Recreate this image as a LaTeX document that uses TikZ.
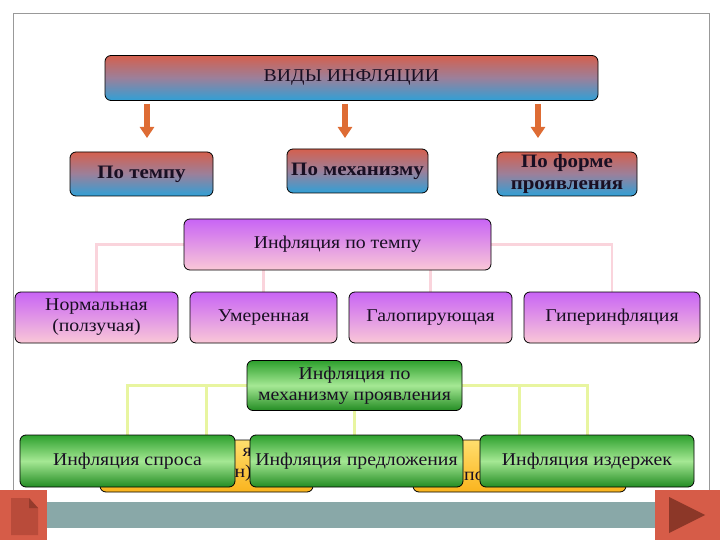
\documentclass[tikz,border=0pt]{standalone}
\usepackage{fontspec}
\setmainfont{Liberation Serif}[FakeStretch=1.1]
\usetikzlibrary{arrows.meta}
\definecolor{redtop}{RGB}{212,96,78}
\definecolor{midmix}{RGB}{155,128,155}
\definecolor{bluebot}{RGB}{48,160,214}
\definecolor{purtop}{RGB}{200,100,245}
\definecolor{pinkbot}{RGB}{250,200,215}
\definecolor{grdark}{RGB}{45,160,45}
\definecolor{grdark2}{RGB}{35,140,35}
\definecolor{grlight}{RGB}{165,232,148}
\definecolor{yeltop}{RGB}{255,222,110}
\definecolor{yelbot}{RGB}{250,180,30}
\definecolor{pinkline}{RGB}{250,212,220}
\definecolor{yelline}{RGB}{232,245,160}
\definecolor{arrowcol}{RGB}{222,108,52}
\definecolor{barcol}{RGB}{137,168,168}
\definecolor{btnred}{RGB}{214,92,72}
\definecolor{btndark}{RGB}{140,55,40}
\definecolor{docdark}{RGB}{185,75,58}
\definecolor{txt}{RGB}{25,15,35}
\tikzset{
  box/.style={draw=black, line width=0.8pt, rounded corners=6pt, inner sep=0pt,
    align=center, text=txt, font=\fontsize{18}{21}\selectfont},
  bluebox/.style={box, top color=redtop, bottom color=bluebot, middle color=midmix,
    font=\fontsize{19}{22}\selectfont\bfseries},
  purbox/.style={box, top color=purtop, bottom color=pinkbot},
  grbox/.style={box, top color=grdark, bottom color=grdark2, middle color=grlight},
  yelbox/.style={box, top color=yeltop, bottom color=yelbot},
  pinkconn/.style={draw=pinkline, line width=2.5pt},
  yelconn/.style={draw=yelline, line width=3pt},
  downarrow/.style={draw=arrowcol, line width=6.5pt, -{Triangle[width=14pt,length=11pt]}},
  hidtext/.style={align=right, text=txt, font=\fontsize{18}{21}\selectfont, inner sep=0pt}
}
\begin{document}
\begin{tikzpicture}[x=1pt,y=-1pt]
\useasboundingbox (0,0) rectangle (720,540);
% slide frame
\draw[draw=gray!80, line width=0.8pt] (13,490) -- (13,13) -- (709,13) -- (709,490);

% top level
\node[box, top color=redtop, bottom color=bluebot, middle color=midmix,
      minimum width=493pt, minimum height=45pt] (vidy) at (351.5,78) {ВИДЫ ИНФЛЯЦИИ};
\node[bluebox, minimum width=143pt, minimum height=44pt] (potempu) at (141.5,174) {По темпу};
\node[bluebox, minimum width=141pt, minimum height=44pt] (pomech) at (357.5,171) {По механизму};
\node[bluebox, minimum width=140pt, minimum height=44pt] (poforme) at (567,174) {По форме\\проявления};

\coordinate (a1s) at (147,104); \coordinate (a1e) at (147,138);
\coordinate (a2s) at (345,104); \coordinate (a2e) at (345,138);
\coordinate (a3s) at (538,104); \coordinate (a3e) at (538,138);
\draw[downarrow] (a1s) -- (a1e);
\draw[downarrow] (a2s) -- (a2e);
\draw[downarrow] (a3s) -- (a3e);

% tempo branch
\coordinate (tempc) at (337.5,244.5);
\path (tempc) ++(-153.5,0) coordinate (tempw) ++(307,0) coordinate (tempe);
\coordinate (norm n) at (96.5,292);
\coordinate (umer n) at (263.5,292);
\coordinate (galop n) at (430.5,292);
\coordinate (giper n) at (612,292);
\draw[pinkconn] (tempw) -| (norm n);
\draw[pinkconn] (tempe) -| (giper n);
\draw[pinkconn] (umer n) -- (263.5,262);
\draw[pinkconn] (galop n) -- (430.5,262);
\node[purbox, minimum width=307pt, minimum height=51pt] (temp) at (tempc) {Инфляция по темпу};
\node[purbox, minimum width=163pt, minimum height=51pt] (norm) at (96.5,317.5) {Нормальная\\(ползучая)};
\node[purbox, minimum width=147pt, minimum height=51pt] (umer) at (263.5,317.5) {Умеренная};
\node[purbox, minimum width=163pt, minimum height=51pt] (galop) at (430.5,317.5) {Галопирующая};
\node[purbox, minimum width=176pt, minimum height=51pt] (giper) at (612,317.5) {Гиперинфляция};

% mechanism branch
\coordinate (mechc) at (354.5,385.5);
\path (mechc) ++(-107.5,0) coordinate (mechw) ++(215,0) coordinate (meche);
\coordinate (otkr n) at (206.5,440);
\coordinate (skr n) at (519.5,440);
\coordinate (spros n) at (127.5,436);
\coordinate (izd n) at (587,436);
\coordinate (predl n) at (354.5,436);
\draw[yelconn] (mechw) -| (spros n);
\draw[yelconn] (meche) -| (izd n);
\draw[yelconn] (otkr n) -- (otkr n |- mechc);
\draw[yelconn] (skr n) -- (skr n |- mechc);
\draw[yelconn] (predl n) -- (354.5,405);

% partly hidden boxes behind the green row
\node[yelbox, minimum width=213pt, minimum height=52pt] (otkr) at (206.5,466) {};
\node[hidtext, anchor=east] (otkrt) at (252,465) {я\\н)};
\node[yelbox, minimum width=213pt, minimum height=52pt] (skr) at (519.5,466) {};
\node[hidtext, anchor=west] (skrt) at (464,476) {по};

\node[grbox, minimum width=215pt, minimum height=50pt] (mech) at (mechc) {Инфляция по\\механизму проявления};
\node[grbox, minimum width=215pt, minimum height=52pt] (spros) at (127.5,461) {Инфляция спроса};
\node[grbox, minimum width=213pt, minimum height=52pt] (predl) at (356.5,461) {Инфляция предложения};
\node[grbox, minimum width=214pt, minimum height=52pt] (izd) at (587,461) {Инфляция издержек};

% bottom navigation bar
\fill[barcol] (45,502) rectangle (656,528);
\fill[btnred] (0,490) rectangle (47,540);
\fill[docdark] (11,498) -- (29,498) -- (38,508) -- (38,535) -- (11,535) -- cycle;
\fill[btndark!80!docdark] (29,498) -- (29,508) -- (38,508) -- cycle;
\fill[btnred] (655,490) rectangle (720,540);
\fill[btndark] (669,497) -- (705,515) -- (669,533) -- cycle;
\end{tikzpicture}
\end{document}
